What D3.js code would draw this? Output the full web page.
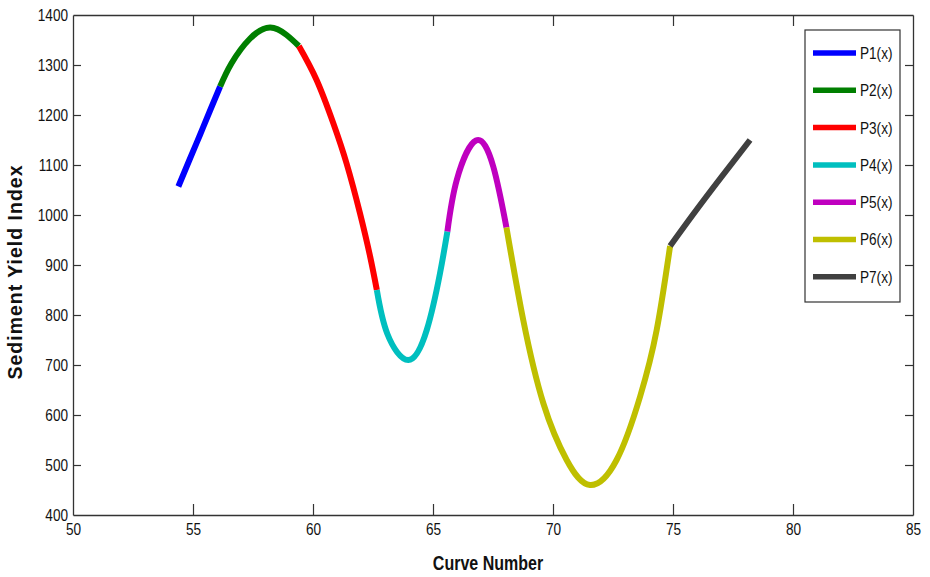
<!DOCTYPE html>
<html>
<head>
<meta charset="utf-8">
<script src="https://cdn.jsdelivr.net/npm/d3@7"></script>
<style>
  body { margin: 0; background: #fff; }
  svg text { fill: #111; }
</style>
</head>
<body>
<svg id="chart" width="930" height="577"></svg>
<script>
// series names + colours (matlab default-ish)
var names = ["P1(x)", "P2(x)", "P3(x)", "P4(x)", "P5(x)", "P6(x)", "P7(x)"];
var colors = ["#0000ff", "#007f00", "#ff0000", "#00bfbf", "#bf00bf", "#bfbf00", "#404040"];

// curve values, one pair of arrays per piece
var p1x = [54.39, 54.85, 55.29, 55.72, 56.13];
var p1y = [1057, 1110, 1160, 1210, 1257];
var p2x = [56.13, 56.6, 57.38, 58.21, 58.9, 59.41];
var p2y = [1257, 1303, 1353, 1375, 1360, 1338];
var p3x = [59.41, 60.15, 60.85, 61.4, 61.96, 62.38, 62.66];
var p3y = [1338, 1270, 1183, 1103, 1003, 917, 850];
var p4x = [62.66, 63.1, 63.97, 64.74, 65.29, 65.6];
var p4y = [850, 762, 710, 770, 883, 967];
var p5x = [65.6, 65.99, 66.79, 67.51, 68.06];
var p5y = [967, 1070, 1149, 1097, 975];
var p6x = [68.06, 68.76, 69.6, 70.57, 71.54, 72.65, 73.63, 74.32, 74.88];
var p6y = [975, 790, 623, 510, 460, 510, 637, 770, 938];
var p7x = [74.88, 75.85, 77.0, 78.21];
var p7y = [938, 1002, 1075, 1150];

var xTicks = [50, 55, 60, 65, 70, 75, 80, 85];
var yTicks = [400, 500, 600, 700, 800, 900, 1000, 1100, 1200, 1300, 1400];

var pieces = [[p1x, p1y], [p2x, p2y], [p3x, p3y], [p4x, p4y], [p5x, p5y], [p6x, p6y], [p7x, p7y]]
    .map(function(p, i) {
        return { name: names[i], color: colors[i], pts: p[0].map(function(v, j) { return [v, p[1][j]]; }) };
    });

var margin = { left: 73, right: 17, top: 15, bottom: 62 };
var W = 930, H = 577;
var svg = d3.select("#chart");

var x = d3.scaleLinear().domain([50, 85]).range([margin.left, W - margin.right]);
var y = d3.scaleLinear().domain([400, 1400]).range([H - margin.bottom, margin.top]);

var font = "'Liberation Sans', Arial, sans-serif";
var axCol = "#333";
var squeeze = 0.8;   // no narrow font installed, so squash by hand

function narrow(sel) {
    sel.each(function() {
        var t = d3.select(this);
        var xx = +t.attr("x") || 0;
        t.attr("x", xx / squeeze).attr("transform", "scale(" + squeeze + ",1)");
    });
}

// the curve pieces
var line = d3.line()
    .x(function(d) { return x(d[0]); })
    .y(function(d) { return y(d[1]); })
    .curve(d3.curveNatural);

svg.append("g").selectAll("path").data(pieces).join("path")
    .attr("d", function(d) { return line(d.pts); })
    .attr("fill", "none")
    .attr("stroke", function(d) { return d.color; })
    .attr("stroke-width", 6)
    .attr("stroke-linecap", "butt");

// axes, matlab box style: ticks inward on all four sides
var xb = svg.append("g").attr("transform", "translate(0," + y(400) + ")")
    .call(d3.axisBottom(x).tickValues(xTicks).tickSizeInner(-11).tickSizeOuter(0).tickPadding(8).tickFormat(d3.format("d")));
var xt = svg.append("g").attr("transform", "translate(0," + y(1400) + ")")
    .call(d3.axisTop(x).tickValues(xTicks).tickSizeInner(-11).tickSizeOuter(0).tickFormat(""));
var yl = svg.append("g").attr("transform", "translate(" + x(50) + ",0)")
    .call(d3.axisLeft(y).tickValues(yTicks).tickSizeInner(-8).tickSizeOuter(0).tickPadding(5).tickFormat(d3.format("d")));
var yr = svg.append("g").attr("transform", "translate(" + x(85) + ",0)")
    .call(d3.axisRight(y).tickValues(yTicks).tickSizeInner(-8).tickSizeOuter(0).tickFormat(""));

[xb, xt, yl, yr].forEach(function(g) {
    g.selectAll(".domain").attr("stroke", axCol).attr("stroke-width", 1.3);
    g.selectAll(".tick line").attr("stroke", axCol).attr("stroke-width", 1.2);
    g.selectAll(".tick text").attr("font-family", font).attr("font-size", 17).attr("fill", "#111").call(narrow);
});
// end ticks overlap the frame, hide those
xb.selectAll(".tick").filter(function(d) { return d == 50 || d == 85; }).select("line").remove();
xt.selectAll(".tick").filter(function(d) { return d == 50 || d == 85; }).select("line").remove();
yl.selectAll(".tick").filter(function(d) { return d == 400 || d == 1400; }).select("line").remove();
yr.selectAll(".tick").filter(function(d) { return d == 400 || d == 1400; }).select("line").remove();

// axis titles
svg.append("text")
    .attr("x", 488).attr("y", 570)
    .attr("text-anchor", "middle")
    .attr("font-family", font)
    .attr("font-weight", "bold")
    .attr("font-size", 20)
    .text("Curve Number")
    .call(narrow);

svg.append("text")
    .attr("transform", "translate(22,272) rotate(-90)")
    .attr("text-anchor", "middle")
    .attr("font-family", font)
    .attr("font-weight", "bold")
    .attr("font-size", 19.5)
    .attr("letter-spacing", 1)
    .text("Sediment Yield Index");

// legend
var lg = svg.append("g");
lg.append("rect")
    .attr("x", 805).attr("y", 30).attr("width", 95).attr("height", 272)
    .attr("fill", "#fff").attr("stroke", axCol).attr("stroke-width", 1.2);

var rows = lg.selectAll("g.row").data(pieces).join("g")
    .attr("class", "row")
    .attr("transform", function(d, i) { return "translate(0," + (53 + i * 37.3) + ")"; });
rows.append("line")
    .attr("x1", 813).attr("x2", 856)
    .attr("stroke", function(d) { return d.color; })
    .attr("stroke-width", 5.5);
rows.append("text")
    .attr("x", 860).attr("dy", "0.35em")
    .attr("font-family", font)
    .attr("font-size", 17)
    .text(function(d) { return d.name; })
    .call(narrow);
</script>
</body>
</html>
